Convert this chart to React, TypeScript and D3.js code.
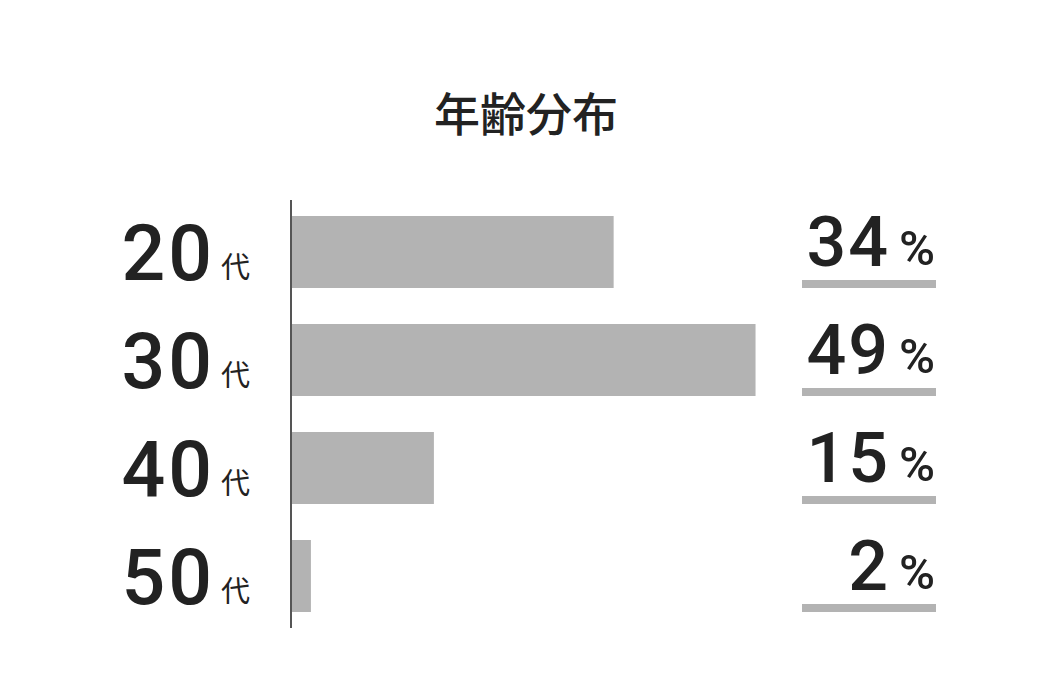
import React from "react";
import * as d3 from "d3";

const title = "年齢分布";
const categories = ["20", "30", "40", "50"];
const categorySuffix = "代";
const values = [34, 49, 15, 2];
const percentSuffix = "%";

const W = 1056;
const H = 700;

export default function App() {
  const x = d3.scaleLinear().domain([0, 100]).range([292, 1238]);
  const y = d3
    .scaleBand<string>()
    .domain(categories)
    .range([198, 630])
    .paddingInner(36 / 108)
    .paddingOuter(18 / 108);
  const bh = y.bandwidth();
  const numFont = "Roboto, 'Noto Sans', sans-serif";
  const cjkFont = "'Noto Sans CJK JP', sans-serif";
  return (
    <svg
      width={W}
      height={H}
      style={{ position: "absolute", left: 0, top: 0, background: "#fff" }}
    >
      <text
        x={526}
        y={131}
        textAnchor="middle"
        fontFamily={cjkFont}
        fontWeight={500}
        fontSize={46}
        fill="#222"
      >
        {title}
      </text>
      {categories.map((c, i) => {
        const top = y(c)!;
        return (
          <g key={c}>
            <rect x={x(0)} y={top} width={x(values[i]) - x(0)} height={bh} fill="#b3b3b3" />
            <text
              x={215}
              y={top + 64}
              textAnchor="end"
              fontFamily={numFont}
              fontWeight={500}
              fontSize={77}
              letterSpacing={3}
              fill="#222"
            >
              {c}
            </text>
            <text
              x={221}
              y={top + 62}
              fontFamily={cjkFont}
              fontWeight={400}
              fontSize={29}
              fill="#222"
            >
              {categorySuffix}
            </text>
            <text
              x={890}
              y={top + 50}
              textAnchor="end"
              fontFamily={numFont}
              fontWeight={500}
              fontSize={70}
              letterSpacing={2}
              fill="#222"
            >
              {values[i]}
            </text>
            <text
              x={899}
              y={top + 49}
              fontFamily={numFont}
              fontWeight={500}
              fontSize={49}
              fill="#222"
            >
              {percentSuffix}
            </text>
            <rect x={802} y={top + bh - 8} width={134} height={8} fill="#b3b3b3" />
          </g>
        );
      })}
      <line x1={291} x2={291} y1={200} y2={628} stroke="#555" strokeWidth={2} />
    </svg>
  );
}
